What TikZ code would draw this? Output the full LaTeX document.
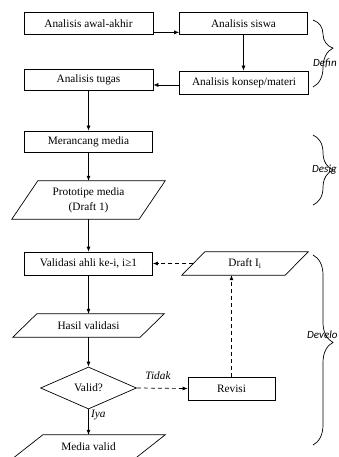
\documentclass[tikz,border=0pt]{standalone}
\usepackage{fontspec}
\setmainfont{Liberation Serif}
\newfontfamily\lblfont{Carlito}
\usetikzlibrary{arrows.meta,shapes.geometric,decorations.pathreplacing}
\newcommand\parashape[2]{\draw[line width=0.7pt] ([xshift=#2]#1.north west) -- (#1.north east) -- ([xshift=-#2]#1.south east) -- (#1.south west) -- cycle;}
\begin{document}
\begin{tikzpicture}[x=1pt,y=-1pt,
  font=\fontsize{11.3}{15}\selectfont,
  procbox/.style={draw,line width=0.7pt,minimum width=129pt,minimum height=22pt,inner sep=0pt},
  iobox/.style={inner sep=0pt,align=center},
  arr/.style={-{Latex[length=5pt,width=4pt]},line width=0.7pt},
  darr/.style={arr,dash pattern=on 4pt off 3pt},
  phase/.style={decorate,decoration={brace,amplitude=20pt,#1},line width=0.7pt},
  phaselbl/.style={font=\lblfont\itshape\fontsize{11}{13}\selectfont,anchor=west,inner sep=0pt},
  edgelbl/.style={font=\itshape\fontsize{11.3}{13}\selectfont,inner sep=0pt}]
\useasboundingbox (0,0) rectangle (339,457);

% Define
\node[procbox] (awal) at (88.5,23.5) {Analisis awal-akhir};
\node[procbox,minimum width=128pt] (siswa) at (243.5,23.5) {Analisis siswa};
\node[procbox,minimum height=23pt] (konsep) at (244,82.5) {Analisis konsep/materi};
\node[procbox,minimum height=21pt] (tugas) at (88.5,79.5) {Analisis tugas};

% Design
\node[procbox,minimum width=128pt,minimum height=21pt] (rancang) at (88.5,141.5) {Merancang media};
\node[iobox,minimum width=153pt,minimum height=38pt] (proto) at (88.5,200) {Prototipe media\\(Draft 1)};
\parashape{proto}{26pt}

% Develop
\node[procbox,minimum width=128pt,minimum height=23pt] (valid1) at (88.5,263.5) {Validasi ahli ke-i, i≥1};
\node[iobox,minimum width=126pt,minimum height=23pt] (draft) at (245,263.5) {Draft I\textsubscript{i}};
\parashape{draft}{23pt}
\node[iobox,minimum width=151pt,minimum height=23pt] (hasil) at (88.5,325.5) {Hasil validasi};
\parashape{hasil}{24pt}
\node[diamond,draw,line width=0.7pt,minimum width=96pt,minimum height=42pt,aspect=2.3,inner sep=0pt] (cek) at (88.5,388) {Valid?};
\node[procbox,minimum width=87pt,minimum height=23pt] (revisi) at (231.5,388.5) {Revisi};
\node[iobox,minimum width=153pt,minimum height=24pt] (media) at (88.5,447) {Media valid};
\parashape{media}{31pt}

% connectors
\coordinate (a1) at ([yshift=2.5pt]awal.south east);
\draw[arr] (a1) -- (a1 -| siswa.west);
\draw[arr] (siswa.south) -- (siswa.south |- konsep.north);
\coordinate (k1) at ([yshift=-2.5pt]konsep.west);
\draw[arr] (k1) -- (k1 -| tugas.east);
\draw[arr] (tugas.south) -- (rancang.north);
\draw[arr] (rancang.south) -- (proto.north);
\draw[arr] (proto.south) -- (valid1.north);
\draw[arr] (valid1.south) -- (hasil.north);
\draw[arr] (hasil.south) -- (cek.north);
\draw[arr] (cek.south) -- (media.north);
\draw[darr] (cek.east) -- (revisi.west);
\draw[darr] (revisi.north) -- (revisi.north |- draft.south);
\coordinate (d1) at ([xshift=11.5pt]draft.west);
\draw[darr] (d1) -- (valid1.east);

\node[edgelbl] (tidak) at (158,376) {Tidak};
\node[edgelbl,anchor=west] (iya) at (91,415) {Iya};

% phase braces
\draw[phase={aspect=0.42}] (313,20) -- (313,87);
\node[phaselbl] (lbl1) at (313,63) {Defin};
\draw[phase={aspect=0.5}] (313,135) -- (313,205);
\node[phaselbl] (lbl2) at (312,170) {Desig};
\draw[phase={aspect=0.46}] (313,255) -- (313,445);
\node[phaselbl] (lbl3) at (307,335) {Develo};
\end{tikzpicture}
\end{document}
